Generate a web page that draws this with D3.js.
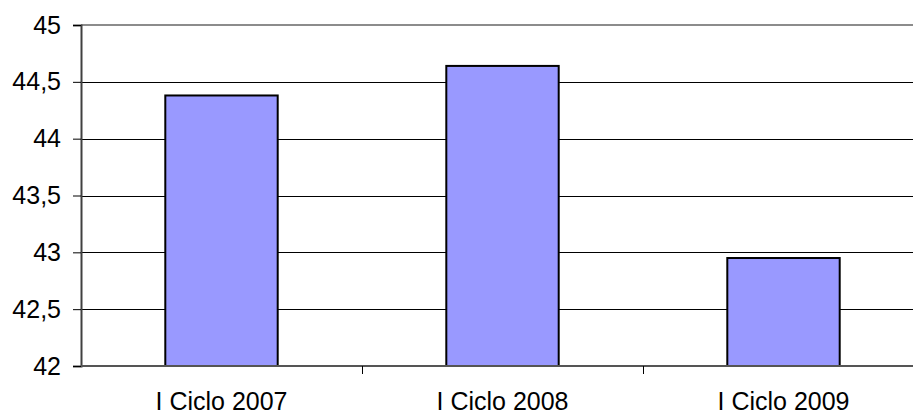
<!DOCTYPE html>
<html>
<head>
<meta charset="utf-8">
<script src="https://cdn.jsdelivr.net/npm/d3@7"></script>
<style>
  html, body { margin: 0; padding: 0; background: #ffffff; }
  svg { display: block; }
  text { font-family: "Liberation Sans", Arial, sans-serif; fill: #000; }
</style>
</head>
<body>
<svg id="chart" width="913" height="414"></svg>
<script>
// Chart data
const categories = ["I Ciclo 2007", "I Ciclo 2008", "I Ciclo 2009"];
const values = [44.38, 44.64, 42.95];
const yTicks = [42, 42.5, 43, 43.5, 44, 44.5, 45];
const yTickLabels = ["42", "42,5", "43", "43,5", "44", "44,5", "45"];

const svg = d3.select("#chart");
const plot = { left: 81, right: 924, top: 25, bottom: 366 };

const x = d3.scaleBand()
  .domain(categories)
  .range([plot.left, plot.right])
  .paddingInner(0.6)
  .paddingOuter(0.3);

const y = d3.scaleLinear()
  .domain([42, 45])
  .range([plot.bottom, plot.top]);

// Horizontal gridlines
svg.append("g")
  .selectAll("line")
  .data(yTicks.filter(t => t > 42 && t < 45))
  .join("line")
  .attr("x1", plot.left)
  .attr("x2", plot.right)
  .attr("y1", d => Math.round(y(d)) + 0.5)
  .attr("y2", d => Math.round(y(d)) + 0.5)
  .attr("stroke", "#000")
  .attr("stroke-width", 1);

// Plot frame top
svg.append("line")
  .attr("x1", plot.left).attr("x2", plot.right)
  .attr("y1", y(45)).attr("y2", y(45))
  .attr("stroke", "#8c8c8c").attr("stroke-width", 2);

// Bars
svg.append("g")
  .selectAll("rect")
  .data(categories.map((c, i) => ({ c, v: values[i] })))
  .join("rect")
  .attr("x", d => x(d.c))
  .attr("width", x.bandwidth())
  .attr("y", d => y(d.v))
  .attr("height", d => y(42) - y(d.v))
  .attr("fill", "#9999ff")
  .attr("stroke", "#000")
  .attr("stroke-width", 2);

// Y axis
const yAxis = d3.axisLeft(y)
  .tickValues(yTicks)
  .tickFormat((d, i) => yTickLabels[i])
  .tickSize(8)
  .tickPadding(12);

const gy = svg.append("g")
  .attr("transform", `translate(${plot.left},0)`)
  .call(yAxis);
gy.select(".domain").attr("stroke", "#404040").attr("stroke-width", 2);
gy.selectAll(".tick line").attr("stroke", "#000").attr("stroke-width", 1);
gy.selectAll(".tick text")
  .style("font-size", "25px")
  .style("font-family", "'Liberation Sans', Arial, sans-serif")
  .attr("fill", "#000");

// X axis with ticks between categories
const gx = svg.append("g")
  .attr("transform", `translate(0,${plot.bottom})`);
gx.append("line")
  .attr("x1", plot.left).attr("x2", plot.right)
  .attr("y1", 0).attr("y2", 0)
  .attr("stroke", "#555").attr("stroke-width", 2);
const boundaries = d3.range(1, categories.length).map(i => plot.left + i * (plot.right - plot.left) / categories.length);
gx.selectAll("line.sep")
  .data(boundaries)
  .join("line")
  .attr("class", "sep")
  .attr("x1", d => Math.round(d) + 0.5).attr("x2", d => Math.round(d) + 0.5)
  .attr("y1", 0).attr("y2", 8)
  .attr("stroke", "#000").attr("stroke-width", 1);
gx.selectAll("text")
  .data(categories)
  .join("text")
  .attr("x", d => x(d) + x.bandwidth() / 2)
  .attr("y", 44)
  .attr("text-anchor", "middle")
  .style("font-size", "25px")
  .text(d => d);
</script>
</body>
</html>
